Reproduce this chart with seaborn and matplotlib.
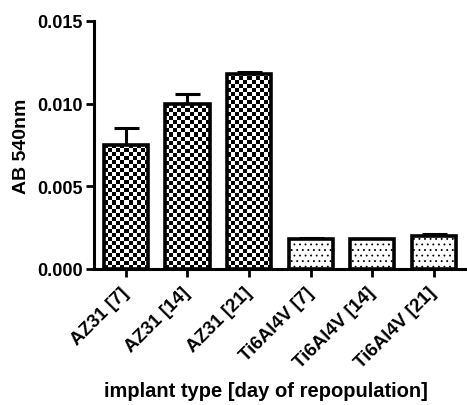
import numpy as np
import matplotlib
matplotlib.use("Agg")
import matplotlib.pyplot as plt
import matplotlib.transforms as mtransforms
import seaborn as sns

categories = ["AZ31 [7]", "AZ31 [14]", "AZ31 [21]", "Ti6Al4V [7]", "Ti6Al4V [14]", "Ti6Al4V [21]"]
values = [0.0075, 0.0100, 0.0118, 0.0018, 0.0018, 0.0020]
errors = [0.0010, 0.0006, 0.0001, 0.0001, 0.0000, 0.0001]
patterns = ["checker", "checker", "checker", "dots", "dots", "dots"]
yticks = [0.000, 0.005, 0.010, 0.015]
ytick_labels = ["0.000", "0.005", "0.010", "0.015"]

sns.set_style("ticks")
plt.rcParams["font.family"] = ["Liberation Sans", "DejaVu Sans"]
plt.rcParams["font.weight"] = "bold"
plt.rcParams["text.color"] = "black"
plt.rcParams["axes.labelcolor"] = "black"
plt.rcParams["xtick.color"] = "black"
plt.rcParams["ytick.color"] = "black"
plt.rcParams["axes.edgecolor"] = "black"
plt.rcParams["hatch.linewidth"] = 0.6
plt.rcParams["hatch.color"] = "#555555"

fig = plt.figure(figsize=(4.67, 4.06), dpi=100)
ax = fig.add_axes([0.201, 0.335, 0.794, 0.611])

sns.barplot(x=categories, y=values, color="white", edgecolor="black",
            linewidth=2.6, width=0.72, ax=ax, errorbar=None, zorder=3)

xs = np.arange(len(categories))
ax.errorbar(xs, values, yerr=[np.zeros(len(errors)), errors], fmt="none",
            ecolor="black", elinewidth=2.2, capsize=9, capthick=2.2, zorder=2)

ax.set_xlim(-0.52, 5.5)
ax.set_ylim(0, 0.015)
fig.canvas.draw()

for patch, pat in zip(ax.patches, patterns):
    x0, y0 = patch.get_x(), patch.get_y()
    w, h = patch.get_width(), patch.get_height()
    if pat == "checker":
        patch.set_facecolor("none")
        p0 = ax.transData.transform((x0, y0))
        p1 = ax.transData.transform((x0 + w, y0 + h))
        cell = 4.0
        nx = max(1, int(round((p1[0] - p0[0]) / cell)))
        ny = max(1, int(np.ceil((p1[1] - p0[1]) / cell)))
        img = (np.add.outer(np.arange(ny), np.arange(nx)) % 2).astype(float)
        top = y0 + ny * cell / (p1[1] - p0[1]) * h
        im = ax.imshow(img, cmap="gray", vmin=0, vmax=1, extent=(x0, x0 + w, y0, top),
                       origin="lower", aspect="auto", interpolation="nearest", zorder=2.8)
        im.set_clip_path(patch)
    else:
        patch.set_hatch("...")

ax.set_xlim(-0.52, 5.5)
ax.set_ylim(0, 0.015)
ax.set_aspect("auto")

ax.set_yticks(yticks)
ax.set_yticklabels(ytick_labels, fontsize=13, fontweight="bold")
ax.set_xticks(xs)
ax.set_xticklabels(categories, rotation=45, ha="right", va="center", rotation_mode="anchor",
                   fontsize=13.5, fontweight="bold")
shift = mtransforms.ScaledTranslation(0.06, 0.0, fig.dpi_scale_trans)
for lbl in ax.get_xticklabels():
    lbl.set_transform(lbl.get_transform() + shift)
ax.set_ylabel("AB 540nm", fontsize=14, fontweight="bold", labelpad=5)
ax.set_xlabel("implant type [day of repopulation]", fontsize=14.5, fontweight="bold")
ax.xaxis.set_label_coords(0.464, -0.45)
ax.xaxis.label.set_va("top")

for s in ["top", "right"]:
    ax.spines[s].set_visible(False)
for s in ["left", "bottom"]:
    ax.spines[s].set_linewidth(2.2)
ax.tick_params(axis="both", width=2.0, length=6, direction="out", pad=2)
ax.tick_params(axis="x", pad=9)

fig.savefig("out.png", dpi=100)
